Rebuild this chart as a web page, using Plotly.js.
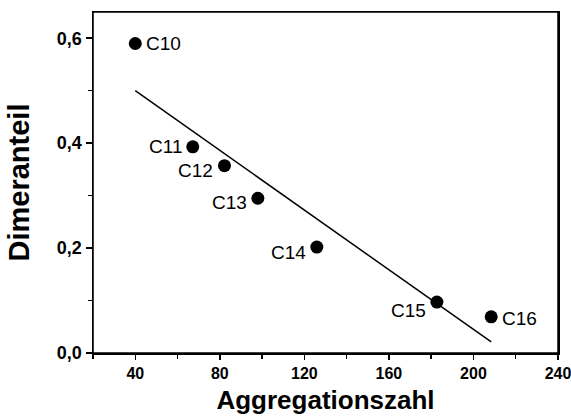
<!DOCTYPE html>
<html>
<head>
<meta charset="utf-8">
<script src="https://cdn.plot.ly/plotly-3.0.1.min.js"></script>
<style>html,body{margin:0;padding:0;background:#fff;}#chart{width:571px;height:419px;}</style>
</head>
<body>
<div id="chart"></div>
<script>
var labels = ["C10", "C11", "C12", "C13", "C14", "C15", "C16"];
var aggregationszahl = [40, 67.2, 82.2, 98, 125.9, 182.7, 208.4];
var dimeranteil = [0.590, 0.393, 0.357, 0.295, 0.202, 0.097, 0.069];
var fitX = [40, 208.4];
var fitY = [0.500, 0.021];
var xTickVals = [40, 80, 120, 160, 200, 240];
var yTickVals = [0, 0.2, 0.4, 0.6];

// label placement styles (pixel offsets from the point)
var labelSide = ["right", "left", "left", "left", "left", "left", "right"];
var labelDy = [0, 0, 5, 4, 5, 8, 2];

var FONT = "Liberation Sans, Arial, Helvetica, sans-serif";

var annotations = labels.map(function (t, i) {
  var right = labelSide[i] === "right";
  return {
    x: aggregationszahl[i], y: dimeranteil[i], xref: "x", yref: "y",
    text: t, showarrow: false,
    xanchor: right ? "left" : "right", yanchor: "middle",
    xshift: right ? 9 : -9, yshift: -labelDy[i],
    font: {family: FONT, size: 19, color: "#000"}
  };
});

var traces = [
  {x: fitX, y: fitY, type: "scatter", mode: "lines",
   line: {color: "#000", width: 1.5}, hoverinfo: "skip", showlegend: false},
  {x: aggregationszahl, y: dimeranteil, type: "scatter", mode: "markers",
   marker: {color: "#000", size: 13}, showlegend: false}
];

var layout = {
  width: 571, height: 419,
  margin: {l: 93, r: 13, t: 12, b: 66},
  paper_bgcolor: "#fff", plot_bgcolor: "#fff",
  separators: ",.",
  showlegend: false,
  font: {family: FONT, color: "#000"},
  xaxis: {
    range: [20, 240], tickvals: xTickVals, ticks: "outside", ticklen: 5, tickwidth: 1.5, tickcolor: "#000",
    minor: {dtick: 20, tick0: 20, ticks: "outside", ticklen: 4, tickwidth: 1.5, tickcolor: "#000"},
    showline: true, mirror: true, linecolor: "#000", linewidth: 1.5, zeroline: false, showgrid: false,
    ticklabeloverflow: "allow",
    tickfont: {family: FONT, size: 16, color: "#000", weight: "bold"},
    title: {text: "<b>Aggregationszahl</b>", font: {family: FONT, size: 26, color: "#000"}, standoff: 10}
  },
  yaxis: {
    range: [0, 0.65], tickvals: yTickVals, tickformat: ".1f", ticks: "outside", ticklen: 6, tickwidth: 1.5, tickcolor: "#000",
    minor: {dtick: 0.1, tick0: 0, ticks: "outside", ticklen: 4, tickwidth: 1.5, tickcolor: "#000"},
    showline: true, mirror: true, linecolor: "#000", linewidth: 1.5, zeroline: false, showgrid: false,
    tickfont: {family: FONT, size: 18, color: "#000", weight: "bold"},
    title: {text: "<b>Dimeranteil</b>", font: {family: FONT, size: 29, color: "#000"}, standoff: 18}
  },
  shapes: [
    {type: "rect", xref: "paper", yref: "paper", x0: 0, x1: 1, y0: 0, y1: 1,
     line: {color: "#000", width: 1.5}, layer: "above"}
  ],
  annotations: annotations
};

Plotly.newPlot("chart", traces, layout, {displayModeBar: false, staticPlot: true});
</script>
</body>
</html>
